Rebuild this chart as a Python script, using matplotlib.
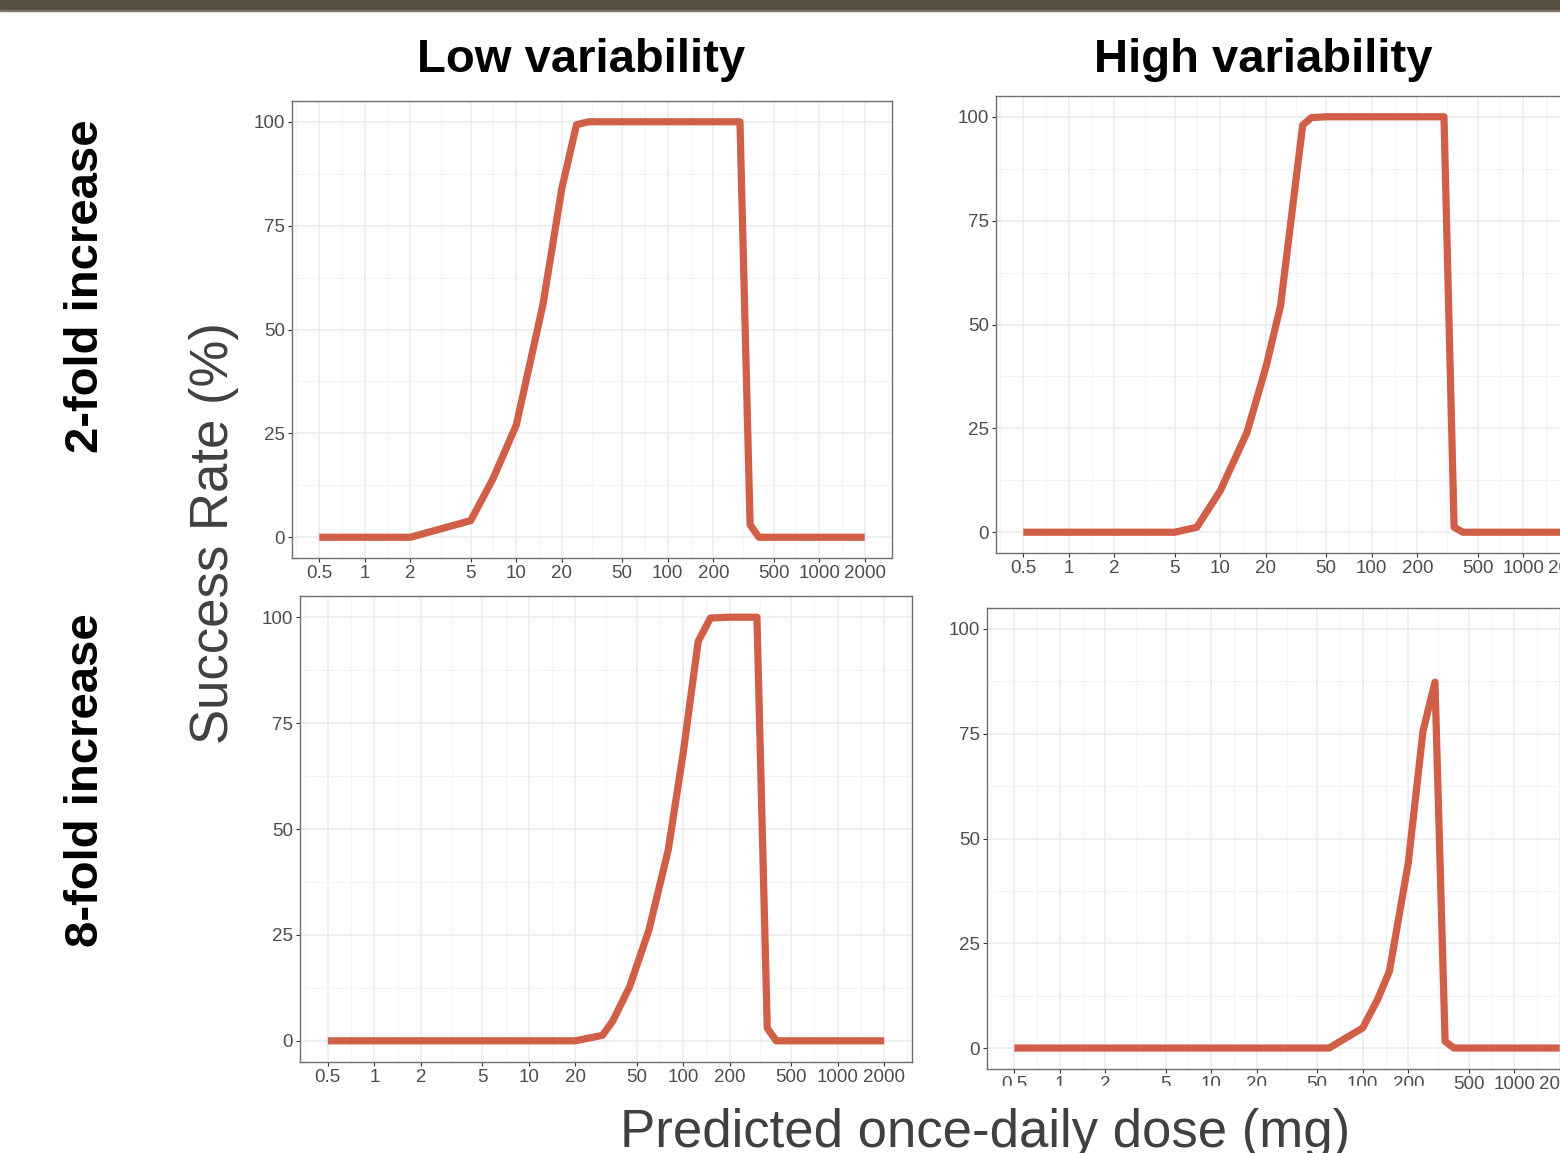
import numpy as np
import matplotlib
matplotlib.use("Agg")
import matplotlib.pyplot as plt
from matplotlib.patches import Rectangle

plt.rcParams["font.family"] = ["Liberation Sans", "DejaVu Sans"]

W, H = 1560, 1153

# ---- data ----
ticks_x = [0.5, 1, 2, 5, 10, 20, 50, 100, 200, 500, 1000, 2000]
tick_lbl_x = ["0.5", "1", "2", "5", "10", "20", "50", "100", "200", "500", "1000", "2000"]
ticks_y = [0, 25, 50, 75, 100]

dose_lv2 = [0.5, 1, 2, 5, 7, 10, 15, 20, 25, 30, 50, 100, 200, 300, 350, 400, 500, 1000, 2000]
sr_lv2 = [0, 0, 0, 4, 14, 27, 56, 84, 99.3, 100, 100, 100, 100, 100, 3, 0, 0, 0, 0]

dose_hv2 = [0.5, 1, 2, 5, 7, 10, 15, 20, 25, 35, 40, 50, 100, 200, 300, 350, 400, 500, 1000, 2000]
sr_hv2 = [0, 0, 0, 0, 1.2, 10, 24, 39.7, 54.5, 98, 99.8, 100, 100, 100, 100, 1.2, 0, 0, 0, 0]

dose_lv8 = [0.5, 1, 2, 5, 10, 20, 30, 35, 45, 60, 80, 100, 125, 150, 200, 300, 350, 400, 500, 1000, 2000]
sr_lv8 = [0, 0, 0, 0, 0, 0, 1.3, 4.7, 12.8, 26.2, 45.1, 68, 94.3, 99.8, 100, 100, 3, 0, 0, 0, 0]

dose_hv8 = [0.5, 1, 2, 5, 10, 20, 50, 60, 100, 125, 150, 200, 250, 300, 350, 400, 500, 1000, 2000]
sr_hv8 = [0, 0, 0, 0, 0, 0, 0, 0, 4.8, 11.5, 18.3, 44.2, 75.6, 87.3, 1.6, 0, 0, 0, 0]

LINE = "#d15e47"
GRID = "#ebebeb"
GRID_MINOR = "#f4f4f4"
TXT = "#4d4d4d"
BORDER = "#6e6e6e"

fig = plt.figure(figsize=(W / 100, H / 100), dpi=100)


def px_axes(left, top, right, bottom):
    return fig.add_axes([left / W, 1 - bottom / H, (right - left) / W, (bottom - top) / H])


def panel(ax, dose, sr):
    lx = np.log10(ticks_x)
    ex = 0.05 * (lx[-1] - lx[0])
    ax.set_xscale("log")
    ax.set_xlim(10 ** (lx[0] - ex), 10 ** (lx[-1] + ex))
    ax.set_ylim(-5, 105)
    # ggplot-style minor breaks: midpoints in log space, one step beyond each end
    ext = np.concatenate([[2 * lx[0] - lx[1]], lx, [2 * lx[-1] - lx[-2]]])
    minor_x = 10 ** ((ext[:-1] + ext[1:]) / 2)
    for m in minor_x:
        ax.axvline(m, color=GRID_MINOR, lw=0.8, zorder=0)
    for m in [12.5, 37.5, 62.5, 87.5]:
        ax.axhline(m, color=GRID_MINOR, lw=0.8, zorder=0)
    for t in ticks_x:
        ax.axvline(t, color=GRID, lw=1.1, zorder=0)
    for t in ticks_y:
        ax.axhline(t, color=GRID, lw=1.1, zorder=0)
    ax.plot(dose, sr, color=LINE, lw=5.2, solid_capstyle="butt", solid_joinstyle="round", zorder=3)
    ax.set_xticks(ticks_x)
    ax.set_xticklabels(tick_lbl_x)
    ax.xaxis.set_minor_locator(matplotlib.ticker.NullLocator())
    ax.set_yticks(ticks_y)
    ax.tick_params(labelsize=13.5, colors="#333333", labelcolor=TXT, length=3, width=0.8, pad=2)
    for s in ax.spines.values():
        s.set_color(BORDER)
        s.set_linewidth(1.0)


ax1 = px_axes(292, 101, 892, 558)
panel(ax1, dose_lv2, sr_lv2)
ax2 = px_axes(996, 96, 1596, 553)
panel(ax2, dose_hv2, sr_hv2)
ax3 = px_axes(300, 596, 912, 1062)
panel(ax3, dose_lv8, sr_lv8)
ax4 = px_axes(987, 608, 1587, 1069)
panel(ax4, dose_hv8, sr_hv8)

# dark band at the top of the slide
fig.patches.append(Rectangle((0, 1 - 10 / H), 1, 10 / H, transform=fig.transFigure,
                             color="#565042", zorder=10))
fig.patches.append(Rectangle((0, 1 - 11 / H), 1, 1 / H, transform=fig.transFigure,
                             color="#7a7762", zorder=10))
# text box of the x title covers the bottom-right tick labels
fig.patches.append(Rectangle((960 / W, 0), (1440 - 960) / W, (H - 1086) / H,
                             transform=fig.transFigure, color="white", zorder=10))

fig.text(581 / W, 1 - 72 / H, "Low variability", fontsize=34, fontweight="bold",
         ha="center", va="baseline")
fig.text(1263 / W, 1 - 72 / H, "High variability", fontsize=34, fontweight="bold",
         ha="center", va="baseline")
fig.text(98 / W, 1 - 286 / H, "2-fold increase", fontsize=34, fontweight="bold",
         rotation=90, rotation_mode="anchor", ha="center", va="baseline")
fig.text(98 / W, 1 - 780 / H, "8-fold increase", fontsize=34, fontweight="bold",
         rotation=90, rotation_mode="anchor", ha="center", va="baseline")
fig.text(228 / W, 1 - 533 / H, "Success Rate (%)", fontsize=38, color="#404040",
         rotation=90, rotation_mode="anchor", ha="center", va="baseline")
fig.text(985 / W, 1 - 1147 / H, "Predicted once-daily dose (mg)", fontsize=38,
         color="#404040", ha="center", va="baseline", zorder=11)

fig.savefig("out.png", dpi=100)
